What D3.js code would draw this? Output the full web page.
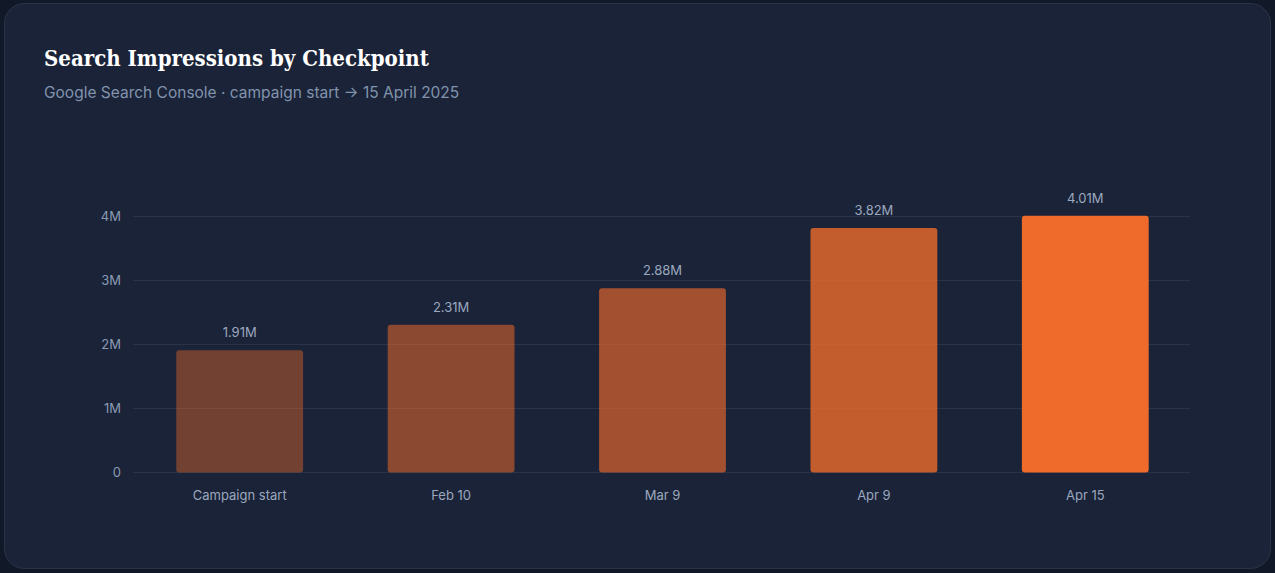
<!DOCTYPE html>
<html>
<head>
<meta charset="utf-8">
<script src="https://cdn.jsdelivr.net/npm/d3@7"></script>
<style>
  html, body { margin: 0; padding: 0; background: #111827; }
  body { width: 1275px; height: 573px; overflow: hidden; }
  #chart { display: block; }
</style>
</head>
<body>
<div id="chart"></div>
<script>
// data
const checkpoints = ["Campaign start", "Feb 10", "Mar 9", "Apr 9", "Apr 15"];
const impressions = [1910000, 2310000, 2880000, 3820000, 4010000];
const valueLabels = ["1.91M", "2.31M", "2.88M", "3.82M", "4.01M"];
const yTicks = [0, 1000000, 2000000, 3000000, 4000000];
const yTickLabels = ["0", "1M", "2M", "3M", "4M"];

const W = 1275, H = 573;
const margin = { top: 216.5, bottom: 100.5, left: 134, right: 84 };
const barOpacity = [0.42, 0.53, 0.64, 0.8, 1];

const svg = d3.select("#chart")
    .append("svg")
    .attr("width", W)
    .attr("height", H);

// card
svg.append("rect")
    .attr("x", 4.5).attr("y", 3.5)
    .attr("width", W - 9).attr("height", H - 8)
    .attr("rx", 20)
    .attr("fill", "#1a2338")
    .attr("stroke", "#2b3549");

svg.append("text")
    .attr("x", 44).attr("y", 66)
    .attr("font-family", "'DejaVu Serif Condensed', 'DejaVu Serif', serif")
    .attr("font-stretch", "condensed")
    .attr("font-weight", 700)
    .attr("font-size", "22px")
    .attr("fill", "#ffffff")
    .text("Search Impressions by Checkpoint");

svg.append("text")
    .attr("x", 44).attr("y", 98)
    .attr("font-family", "Inter, sans-serif")
    .attr("font-size", "15.5px")
    .attr("fill", "#8193ad")
    .text("Google Search Console · campaign start → 15 April 2025");

const x = d3.scaleBand()
    .domain(checkpoints)
    .range([margin.left, W - margin.right])
    .paddingInner(0.4)
    .paddingOuter(0.2);

const y = d3.scaleLinear()
    .domain([0, 4000000])
    .range([H - margin.bottom, margin.top]);

// grid
svg.append("g")
    .selectAll("line")
    .data(yTicks)
    .join("line")
    .attr("x1", margin.left - 1)
    .attr("x2", W - margin.right - 1)
    .attr("y1", d => y(d))
    .attr("y2", d => y(d))
    .attr("stroke", "#2a3347")
    .attr("stroke-width", 1);

// y axis
const yAxis = svg.append("g")
    .attr("transform", `translate(${margin.left - 13},0)`)
    .call(d3.axisLeft(y).tickValues(yTicks).tickFormat((d, i) => yTickLabels[i]).tickSize(0).tickPadding(0));
yAxis.select(".domain").remove();
yAxis.selectAll("text")
    .attr("font-family", "Inter, sans-serif")
    .attr("font-size", "13px")
    .attr("fill", "#8b9ab3");

// bars
svg.append("g")
    .selectAll("rect")
    .data(impressions)
    .join("rect")
    .attr("x", (d, i) => x(checkpoints[i]))
    .attr("y", d => y(d))
    .attr("width", x.bandwidth())
    .attr("height", d => y(0) - y(d))
    .attr("rx", 3)
    .attr("fill", "#ef6b2c")
    .attr("fill-opacity", (d, i) => barOpacity[i]);

// value labels
svg.append("g")
    .selectAll("text")
    .data(impressions)
    .join("text")
    .attr("x", (d, i) => x(checkpoints[i]) + x.bandwidth() / 2)
    .attr("y", d => y(d) - 13)
    .attr("text-anchor", "middle")
    .attr("font-family", "Inter, sans-serif")
    .attr("font-size", "13px")
    .attr("fill", "#9aa8bf")
    .text((d, i) => valueLabels[i]);

// x axis
const xAxis = svg.append("g")
    .attr("transform", `translate(0,${H - margin.bottom})`)
    .call(d3.axisBottom(x).tickSize(0).tickPadding(18));
xAxis.select(".domain").remove();
xAxis.selectAll("text")
    .attr("font-family", "Inter, sans-serif")
    .attr("font-size", "13px")
    .attr("fill", "#9aa8bf");
</script>
</body>
</html>
